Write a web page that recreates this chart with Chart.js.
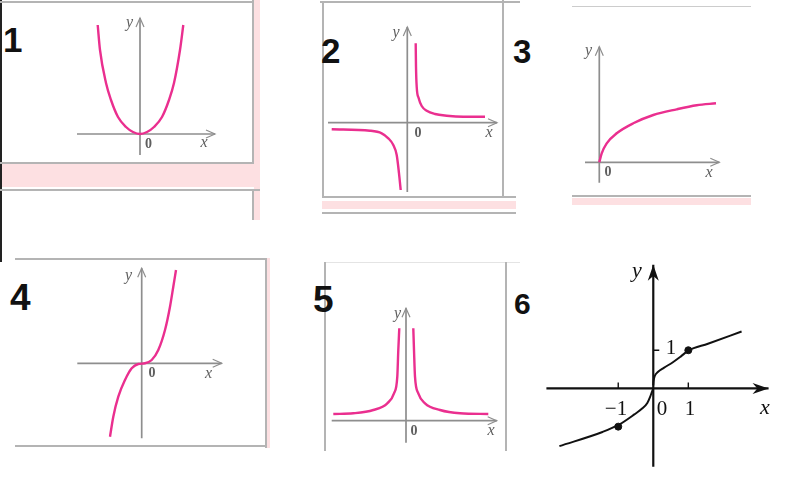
<!DOCTYPE html>
<html>
<head>
<meta charset="utf-8">
<script src="https://cdn.jsdelivr.net/npm/chart.js@4"></script>
<style>
  body { margin: 0; background: #fff; }
  #page { position: relative; width: 787px; height: 479px; overflow: hidden; background: #fff; }
  canvas { position: absolute; }
  .ln { position: absolute; background: #b4b4b4; }
  .pink { position: absolute; background: #fde0e2; }
  .num { position: absolute; font-family: "Liberation Sans", Arial, sans-serif; font-weight: bold; color: #111; line-height: 1; }
</style>
</head>
<body>
<div id="page">
  <!-- frames and bands of the scanned sheet -->
  <div class="ln" style="left:0;top:0;width:2px;height:262px;background:#222"></div>
  <div class="ln" style="left:0;top:1px;width:254px;height:2px"></div>
  <div class="ln" style="left:252px;top:0;width:2px;height:164px"></div>
  <div class="ln" style="left:0;top:162px;width:254px;height:2px"></div>
  <div class="pink" style="left:2px;top:164px;width:258px;height:23px"></div>
  <div class="pink" style="left:254px;top:0;width:6px;height:220px"></div>
  <div class="ln" style="left:0;top:189px;width:260px;height:2px"></div>
  <div class="ln" style="left:252px;top:191px;width:2px;height:29px"></div>

  <div class="ln" style="left:320px;top:1px;width:200px;height:2px"></div>
  <div class="ln" style="left:322px;top:2px;width:2px;height:196px"></div>
  <div class="ln" style="left:502px;top:0;width:2px;height:198px"></div>
  <div class="ln" style="left:322px;top:196px;width:194px;height:2px"></div>
  <div class="pink" style="left:322px;top:201px;width:194px;height:8px"></div>
  <div class="ln" style="left:322px;top:212px;width:194px;height:2px"></div>

  <div class="ln" style="left:572px;top:6px;width:179px;height:1px;background:#ccc"></div>
  <div class="ln" style="left:572px;top:195px;width:179px;height:2px"></div>
  <div class="pink" style="left:572px;top:198px;width:179px;height:7px"></div>

  <div class="ln" style="left:15px;top:258px;width:252px;height:2px"></div>
  <div class="ln" style="left:265px;top:258px;width:2px;height:190px"></div>
  <div class="pink" style="left:267px;top:258px;width:3px;height:190px"></div>
  <div class="ln" style="left:15px;top:445px;width:252px;height:2px"></div>

  <div class="ln" style="left:325px;top:262px;width:195px;height:1px;background:#e4e4e4"></div>
  <div class="ln" style="left:324px;top:262px;width:2px;height:189px"></div>
  <div class="ln" style="left:505px;top:262px;width:2px;height:189px"></div>

  <div class="num" style="left:3px;top:22px;font-size:35px">1</div>
  <div class="num" style="left:321px;top:33px;font-size:35px">2</div>
  <div class="num" style="left:513px;top:35px;font-size:33px">3</div>
  <div class="num" style="left:10px;top:279px;font-size:37px">4</div>
  <div class="num" style="left:313px;top:281px;font-size:37px">5</div>
  <div class="num" style="left:514px;top:289px;font-size:30px">6</div>

  <canvas id="c1" width="150" height="150" style="left:70px;top:10px"></canvas>
  <canvas id="c2" width="185" height="180" style="left:322px;top:20px"></canvas>
  <canvas id="c3" width="155" height="150" style="left:575px;top:40px"></canvas>
  <canvas id="c4" width="160" height="182" style="left:70px;top:262px"></canvas>
  <canvas id="c5" width="180" height="150" style="left:326px;top:300px"></canvas>
  <canvas id="c6" width="250" height="222" style="left:535px;top:255px"></canvas>
</div>
<script>
// curve samples (x right, y up, origin at the axes crossing)
const p1X = [-4.23, -4.0, -3.4, -2.9, -2.2, -1.4, -0.7, 0, 0.7, 1.4, 2.2, 2.9, 3.4, 4.0, 4.33];
const p1Y = [10.9, 8.4, 5.1, 3.4, 1.7, 0.7, 0.2, 0, 0.2, 0.7, 1.7, 3.4, 5.1, 8.4, 10.9];

const p2LeftX = [-7.56, -3.73, -2.56, -1.9, -1.4, -1.06, -0.83, -0.66];
const p2LeftY = [-0.66, -0.8, -1.06, -1.56, -2.23, -3.23, -5.06, -6.73];
const p2RightX = [0.84, 0.87, 0.94, 1.14, 1.44, 1.94, 2.77, 3.94, 5.6, 7.77];
const p2RightY = [7.94, 5.6, 3.6, 2.44, 1.67, 1.2, 0.87, 0.7, 0.6, 0.6];

const p3X = [0, 0.24, 0.74, 1.74, 3.4, 5.4, 7.74, 9.74, 11.67];
const p3Y = [0, 0.9, 1.9, 2.9, 3.9, 4.73, 5.3, 5.7, 5.9];

const p4X = [-3.17, -2.84, -2.34, -1.67, -1.0, -0.34, 0.33, 1.0, 1.66, 2.33, 2.83, 3.16, 3.43];
const p4Y = [-7.34, -5.34, -3.34, -1.67, -0.5, -0.07, 0, 0.33, 1.33, 3.33, 5.66, 7.66, 9.33];

const p5LeftX = [-7.27, -5.27, -3.27, -1.87, -1.2, -0.87, -0.77, -0.67];
const p5LeftY = [0.67, 0.74, 1.07, 1.74, 2.74, 4.4, 7.07, 9.24];
const p5RightX = [0.73, 0.8, 0.9, 1.23, 1.9, 3.4, 5.4, 8.23];
const p5RightY = [9.24, 7.07, 4.4, 2.74, 1.74, 1.07, 0.74, 0.67];

const p6LeftX = [-2.68, -1.45, -0.98, -0.54, -0.31, -0.17, -0.09, -0.03, 0];
const p6LeftY = [-1.51, -1.14, -0.95, -0.68, -0.52, -0.38, -0.22, -0.07, 0];
const p6RightX = [0, 0.01, 0.04, 0.13, 0.3, 0.55, 0.79, 1.0, 1.56, 2.52];
const p6RightY = [0.08, 0.2, 0.32, 0.43, 0.54, 0.68, 0.84, 0.99, 1.17, 1.49];
const p6DotX = [-1, 1];
const p6DotY = [-1, 1];

const PINK = "#ea2f8f";
const GRAY = "#8e8e8e";

function pts(xs, ys) {
  return xs.map((v, i) => ({ x: v, y: ys[i] }));
}

function curve(xs, ys, color, width) {
  return {
    data: pts(xs, ys),
    showLine: true,
    borderColor: color,
    borderWidth: width,
    pointRadius: 0,
    cubicInterpolationMode: "monotone",
    clip: false
  };
}

// draws the two axes with arrows, small ticks and the letters
const axesPlugin = {
  id: "axesArrows",
  beforeDatasetsDraw(chart, args, o) {
    const { ctx } = chart;
    const sx = chart.scales.x, sy = chart.scales.y;
    const ox = sx.getPixelForValue(0), oy = sy.getPixelForValue(0);
    const xa = sx.getPixelForValue(o.xRange[0]), xb = sx.getPixelForValue(o.xRange[1]);
    const ya = sy.getPixelForValue(o.yRange[0]), yb = sy.getPixelForValue(o.yRange[1]);
    ctx.save();
    ctx.strokeStyle = o.color;
    ctx.fillStyle = o.color;
    ctx.lineWidth = o.width;
    ctx.beginPath();
    ctx.moveTo(xa, oy); ctx.lineTo(xb, oy);
    ctx.moveTo(ox, ya); ctx.lineTo(ox, yb);
    ctx.stroke();
    const L = o.arrowLen, W = o.arrowHalf;
    ctx.beginPath();
    if (o.filled) {
      ctx.moveTo(xb, oy); ctx.lineTo(xb - L, oy - W); ctx.lineTo(xb - L * 0.7, oy); ctx.lineTo(xb - L, oy + W); ctx.closePath();
      ctx.moveTo(ox, yb); ctx.lineTo(ox - W, yb + L); ctx.lineTo(ox, yb + L * 0.7); ctx.lineTo(ox + W, yb + L); ctx.closePath();
      ctx.fill();
    } else {
      ctx.lineWidth = 1.2;
      ctx.moveTo(xb - L, oy - W); ctx.lineTo(xb, oy); ctx.lineTo(xb - L, oy + W);
      ctx.moveTo(ox - W, yb + L); ctx.lineTo(ox, yb); ctx.lineTo(ox + W, yb + L);
      ctx.stroke();
    }
    if (o.ticksX) {
      ctx.lineWidth = 1.4;
      ctx.beginPath();
      o.ticksX.forEach((t) => { const px = sx.getPixelForValue(t); ctx.moveTo(px, oy); ctx.lineTo(px, oy - 6); });
      o.ticksY.forEach((t) => { const py = sy.getPixelForValue(t); ctx.moveTo(ox, py); ctx.lineTo(ox + 6, py); });
      ctx.stroke();
    }
    ctx.textAlign = "center";
    ctx.textBaseline = "middle";
    o.labels.forEach((l) => {
      ctx.font = l.font;
      ctx.fillStyle = l.color || o.textColor;
      ctx.fillText(l.text, l.x - o.left, l.y - o.top);
    });
    ctx.restore();
  }
};
Chart.register(axesPlugin);

function panel(id, box, origin, unit, datasets, axes) {
  const cv = document.getElementById(id);
  return new Chart(cv.getContext("2d"), {
    type: "scatter",
    data: { datasets: datasets },
    options: {
      responsive: false,
      animation: false,
      events: [],
      layout: { padding: 0 },
      plugins: {
        legend: { display: false },
        tooltip: { enabled: false },
        axesArrows: Object.assign({ left: box.left, top: box.top }, axes)
      },
      scales: {
        x: { type: "linear", display: false, min: (box.left - origin.x) / unit.x, max: (box.left + box.w - origin.x) / unit.x },
        y: { type: "linear", display: false, min: (origin.y - box.top - box.h) / unit.y, max: (origin.y - box.top) / unit.y }
      }
    }
  });
}

const ital = "italic 16px 'Liberation Serif', 'DejaVu Serif', serif";
const zero = "bold 14px 'Liberation Serif', 'DejaVu Serif', serif";
const thin = { color: GRAY, width: 1.7, arrowLen: 9, arrowHalf: 4, filled: false, textColor: "#5e5e5e" };
const u10 = { x: 10, y: 10 };

panel("c1", { left: 70, top: 10, w: 150, h: 150 }, { x: 140, y: 134 }, u10,
  [curve(p1X, p1Y, PINK, 2.4)],
  Object.assign({}, thin, { xRange: [-6.3, 7.5], yRange: [-2.1, 11.6],
    labels: [{ text: "y", x: 129.5, y: 23, font: ital }, { text: "0", x: 148.5, y: 144, font: zero }, { text: "x", x: 204, y: 143, font: ital }] }));

panel("c2", { left: 322, top: 20, w: 185, h: 180 }, { x: 407.3, y: 122.7 }, u10,
  [curve(p2LeftX, p2LeftY, PINK, 2.4), curve(p2RightX, p2RightY, PINK, 2.4)],
  Object.assign({}, thin, { xRange: [-7.93, 8.97], yRange: [-6.93, 9.57],
    labels: [{ text: "y", x: 396, y: 33, font: ital }, { text: "0", x: 418, y: 133, font: zero }, { text: "x", x: 489, y: 132.5, font: ital }] }));

panel("c3", { left: 575, top: 40, w: 155, h: 150 }, { x: 599.3, y: 162.3 }, u10,
  [curve(p3X, p3Y, PINK, 2.4)],
  Object.assign({}, thin, { xRange: [-1.43, 12.0], yRange: [-2.04, 11.56],
    labels: [{ text: "y", x: 588.5, y: 51, font: ital }, { text: "0", x: 608, y: 172.5, font: zero }, { text: "x", x: 709, y: 173, font: ital }] }));

panel("c4", { left: 70, top: 262, w: 160, h: 182 }, { x: 141.7, y: 363.3 }, u10,
  [curve(p4X, p4Y, PINK, 2.4)],
  Object.assign({}, thin, { xRange: [-6.44, 8.0], yRange: [-7.5, 9.5],
    labels: [{ text: "y", x: 128.5, y: 276, font: ital }, { text: "0", x: 152, y: 373.5, font: zero }, { text: "x", x: 208.5, y: 373.5, font: ital }] }));

panel("c5", { left: 326, top: 300, w: 180, h: 150 }, { x: 406, y: 420.7 }, u10,
  [curve(p5LeftX, p5LeftY, PINK, 2.4), curve(p5RightX, p5RightY, PINK, 2.4)],
  Object.assign({}, thin, { xRange: [-7.43, 9.07], yRange: [-2.2, 11.24],
    labels: [{ text: "y", x: 397.5, y: 314, font: ital }, { text: "0", x: 414, y: 431.5, font: zero }, { text: "x", x: 491, y: 431, font: ital }] }));

const big = "21px 'Liberation Serif', 'DejaVu Serif', serif";
const bigIt = "italic 22px 'Liberation Serif', 'DejaVu Serif', serif";
panel("c6", { left: 535, top: 255, w: 250, h: 222 }, { x: 653, y: 389.5 }, { x: 36.5, y: 40 },
  [
    curve(p6LeftX, p6LeftY, "#111", 2),
    curve(p6RightX, p6RightY, "#111", 2),
    { data: pts(p6DotX, p6DotY), pointRadius: 3.5, pointBackgroundColor: "#111", pointBorderColor: "#111", showLine: false, clip: false }
  ],
  { color: "#111", width: 2.2, arrowLen: 16, arrowHalf: 5.5, filled: true, textColor: "#111",
    xRange: [-3.05, 3.29], yRange: [-2.05, 3.24], ticksX: [-1, 1], ticksY: [1],
    labels: [
      { text: "y", x: 637, y: 271, font: bigIt },
      { text: "\u22121", x: 616, y: 409.5, font: big },
      { text: "0", x: 662, y: 409.5, font: big },
      { text: "1", x: 690, y: 409.5, font: big },
      { text: "x", x: 765, y: 408, font: bigIt },
      { text: "1", x: 671, y: 348.5, font: big }
    ] });
</script>
</body>
</html>
